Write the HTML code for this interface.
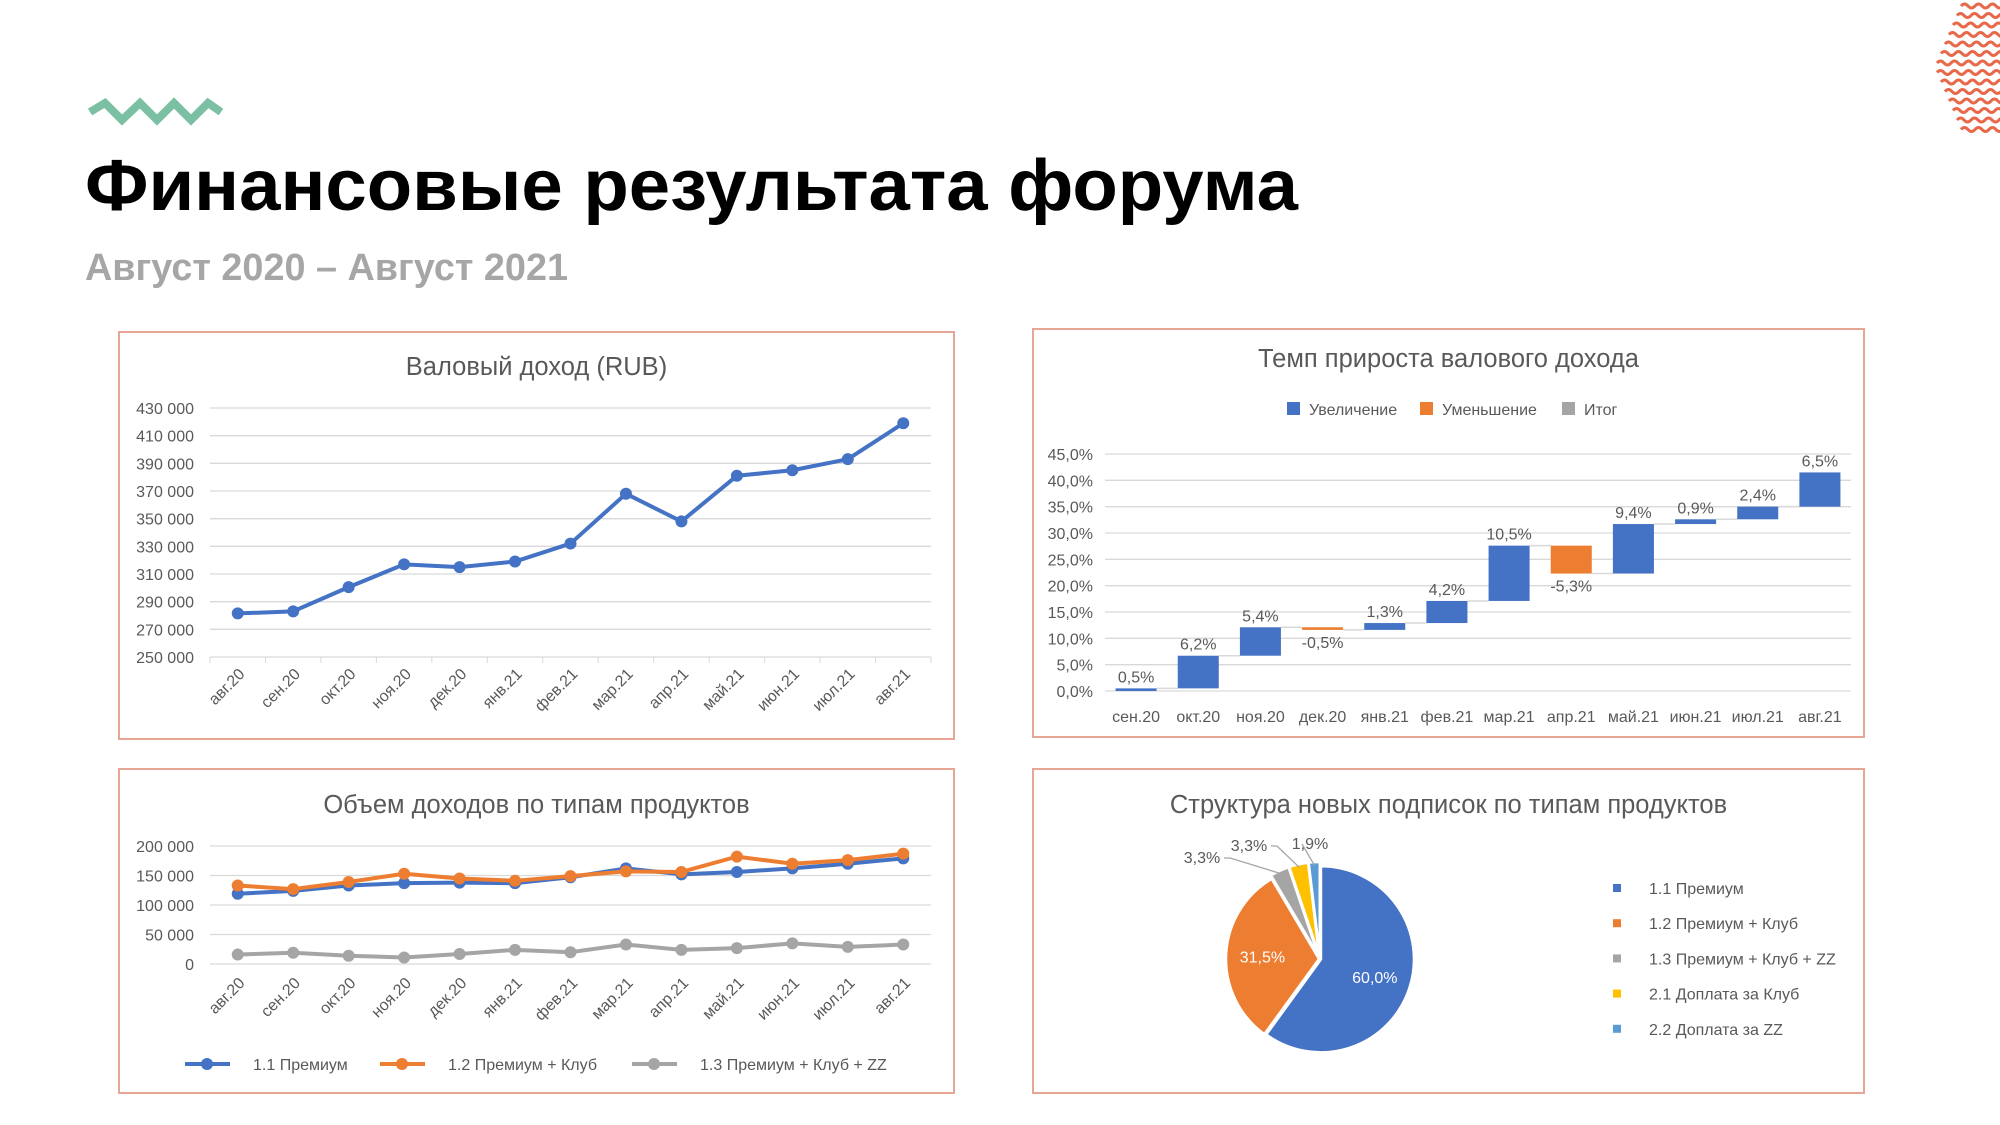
<!DOCTYPE html>
<html><head><meta charset="utf-8"><style>
html,body{margin:0;padding:0;background:#fff;}
svg{display:block;font-family:"Liberation Sans","DejaVu Sans",sans-serif;}
</style></head><body>
<svg id="s" width="2000" height="1125" viewBox="0 0 2000 1125" xmlns="http://www.w3.org/2000/svg">
<polyline points="90,112 105,103 122,120 140,103 157,120 174,103 191,120 208,103 221,112" fill="none" stroke="#7cc0a4" stroke-width="8" stroke-linejoin="miter"/>
<text x="85" y="210" font-size="72" font-weight="bold" fill="#000" textLength="1213" lengthAdjust="spacingAndGlyphs">Финансовые результата форума</text>
<text x="85" y="280" font-size="38" font-weight="bold" fill="#a6a6a6" textLength="483" lengthAdjust="spacingAndGlyphs">Август 2020 – Август 2021</text>
<g id="waves"></g>
<g id="c1"></g>
<g id="c2"></g>
<g id="c3"></g>
<g id="c4"></g>
</svg>
<script>
const months = ['авг.20','сен.20','окт.20','ноя.20','дек.20','янв.21','фев.21','мар.21','апр.21','май.21','июн.21','июл.21','авг.21'];
const grossIncome = [281500,283000,300500,317000,315000,319000,332000,368000,348000,381000,385000,393000,419000];
const grossTicks = [250000,270000,290000,310000,330000,350000,370000,390000,410000,430000];
const growthCats = ['сен.20','окт.20','ноя.20','дек.20','янв.21','фев.21','мар.21','апр.21','май.21','июн.21','июл.21','авг.21'];
const growthVals = [0.5,6.2,5.4,-0.5,1.3,4.2,10.5,-5.3,9.4,0.9,2.4,6.5];
const growthTicks = [0,5,10,15,20,25,30,35,40,45];
const premium = [119000,124000,133000,137000,138000,137000,147000,162000,152000,156000,162000,170000,179000];
const premiumClub = [133000,127000,139000,153000,145000,141000,149000,157000,156000,182000,170000,176000,187000];
const premiumClubZZ = [16000,19000,14000,11000,17000,24000,20000,33000,24000,27000,35000,29000,33000];
const productTicks = [0,50000,100000,150000,200000];
const pieLabels = ['1.1 Премиум','1.2 Премиум + Клуб','1.3 Премиум + Клуб + ZZ','2.1 Доплата за Клуб','2.2 Доплата за ZZ'];
const pieVals = [60.0,31.5,3.3,3.3,1.9];

const NS='http://www.w3.org/2000/svg';
function mk(parent,tag,attrs,txt){const e=document.createElementNS(NS,tag);for(const k in attrs)e.setAttribute(k,attrs[k]);if(txt!==undefined)e.textContent=txt;parent.appendChild(e);return e;}
function fmt(v){const s=String(Math.round(v));return s.replace(/\B(?=(\d{3})+(?!\d))/g,' ');}
function pct(v){return v.toFixed(1).replace('.',',')+'%';}
const BLUE='#4472c4',ORANGE='#ed7d31',GRAY='#a5a5a5',YEL='#ffc000',LBLUE='#5b9bd5',TXT='#595959',GRID='#d9d9d9';

(function(){const g=document.getElementById('waves');
for(let i=0;i<14;i++){const y=6+i*9.5;const x0=1935+Math.abs(i-6.5)*4;let d='M'+x0+','+y;
for(let x=x0;x<2005;x+=14){d+=' q3.5,-4 7,0 t7,0';}
const p=mk(g,'path',{d:d,fill:'none',stroke:'#e8694a','stroke-width':'3'});

}})();

function frame(g,x,y,w,h,title,ty){
 const r=mk(g,'rect',{x:x,y:y,width:w,height:h,fill:'#fff',stroke:'#e6a595','stroke-width':'2'});
 
 
 const t=mk(g,'text',{x:x+w/2,y:ty,'text-anchor':'middle','font-size':'25.5',fill:TXT},title);
 
 
}

(function(){const g=document.getElementById('c1');
frame(g,119,332,835,407,'Валовый доход (RUB)',375);
const L=210,R=931,T=408,B=657,min=250000,max=430000;
const yS=v=>B-(v-min)/(max-min)*(B-T);const bw=(R-L)/months.length;const xS=i=>L+bw*(i+0.5);
grossTicks.forEach(v=>{const l=mk(g,'line',{x1:L,x2:R,y1:yS(v),y2:yS(v),stroke:GRID,'stroke-width':'1.3'});

const t=mk(g,'text',{x:194,y:yS(v)+6,'text-anchor':'end','font-size':'16',fill:TXT},fmt(v));
});
for(let i=0;i<=months.length;i++){mk(g,'line',{x1:L+bw*i,x2:L+bw*i,y1:B,y2:B+6,stroke:GRID});}
months.forEach((m,i)=>{const t=mk(g,'text',{transform:`translate(${xS(i)+8},${B+18}) rotate(-45)`,'text-anchor':'end','font-size':'16',fill:TXT},m);
});
const pl=mk(g,'polyline',{points:grossIncome.map((v,i)=>xS(i)+','+yS(v)).join(' '),fill:'none',stroke:BLUE,'stroke-width':'4','stroke-linejoin':'round'});

grossIncome.forEach((v,i)=>{const c=mk(g,'circle',{cx:xS(i),cy:yS(v),r:6,fill:BLUE});
});
})();

(function(){const g=document.getElementById('c2');
frame(g,1033,329,831,408,'Темп прироста валового дохода',367);
const leg=[['Увеличение',BLUE,1287],['Уменьшение',ORANGE,1420],['Итог',GRAY,1562]];
leg.forEach(l=>{const r=mk(g,'rect',{x:l[2],y:402,width:13,height:13,fill:l[1]});

const t=mk(g,'text',{x:l[2]+22,y:415,'font-size':'16',fill:TXT},l[0]);
});
const L=1105,R=1851,T=454,B=691,max=45;
const yS=v=>B-v/max*(B-T);const bw=(R-L)/growthCats.length;const xS=i=>L+bw*(i+0.5);
growthTicks.forEach(v=>{const l=mk(g,'line',{x1:L,x2:R,y1:yS(v),y2:yS(v),stroke:GRID,'stroke-width':'1.3'});

const t=mk(g,'text',{x:1093,y:yS(v)+6,'text-anchor':'end','font-size':'16',fill:TXT},pct(v));
});
let cum=0;const w=bw*0.66;
growthVals.forEach((v,i)=>{const a=cum,b=cum+v;cum=b;const top=Math.max(a,b),bot=Math.min(a,b);
const r=mk(g,'rect',{x:xS(i)-w/2,y:yS(top),width:w,height:Math.max(1.5,yS(bot)-yS(top)),fill:v>=0?BLUE:ORANGE});

if(i<growthVals.length-1){const c=mk(g,'line',{x1:xS(i)+w/2,x2:xS(i+1)-w/2,y1:yS(b),y2:yS(b),stroke:GRID,'stroke-width':'1.5'});
}
const ly=v>=0?yS(top)-6:yS(bot)+18;
const t=mk(g,'text',{x:xS(i),y:ly,'text-anchor':'middle','font-size':'16',fill:TXT},pct(v));

const xl=mk(g,'text',{x:xS(i),y:722,'text-anchor':'middle','font-size':'16',fill:TXT},growthCats[i]);
});
})();

(function(){const g=document.getElementById('c3');
frame(g,119,769,835,324,'Объем доходов по типам продуктов',813);
const L=210,R=931,T=846,B=964,min=0,max=200000;
const yS=v=>B-(v-min)/(max-min)*(B-T);const bw=(R-L)/months.length;const xS=i=>L+bw*(i+0.5);
productTicks.forEach(v=>{const l=mk(g,'line',{x1:L,x2:R,y1:yS(v),y2:yS(v),stroke:GRID,'stroke-width':'1.3'});

const t=mk(g,'text',{x:194,y:yS(v)+6,'text-anchor':'end','font-size':'16',fill:TXT},fmt(v));
});
months.forEach((m,i)=>{const t=mk(g,'text',{transform:`translate(${xS(i)+8},${B+20}) rotate(-45)`,'text-anchor':'end','font-size':'16',fill:TXT},m);
});
const series=[[premium,BLUE,'premium-line'],[premiumClub,ORANGE,'premium-club-line'],[premiumClubZZ,GRAY,'premium-club-zz-line']];
series.forEach(s=>{const pl=mk(g,'polyline',{points:s[0].map((v,i)=>xS(i)+','+yS(v)).join(' '),fill:'none',stroke:s[1],'stroke-width':'4','stroke-linejoin':'round'});

s[0].forEach((v,i)=>{const c=mk(g,'circle',{cx:xS(i),cy:yS(v),r:6,fill:s[1]});
});});
const legs=[[185,pieLabels[0],BLUE],[380,pieLabels[1],ORANGE],[632,pieLabels[2],GRAY]];
legs.forEach(l=>{const ln=mk(g,'line',{x1:l[0],x2:l[0]+45,y1:1064,y2:1064,stroke:l[2],'stroke-width':'4'});

mk(g,'circle',{cx:l[0]+22,cy:1064,r:6,fill:l[2]});
const t=mk(g,'text',{x:l[0]+68,y:1070,'font-size':'16',fill:TXT},l[1]);
});
})();

(function(){const g=document.getElementById('c4');
frame(g,1033,769,831,324,'Структура новых подписок по типам продуктов',813);
const cx=1320,cy=959,r=93;const cols=[BLUE,ORANGE,GRAY,YEL,LBLUE];
const tot=pieVals.reduce((a,b)=>a+b,0);let ang=0;
pieVals.forEach((v,i)=>{const a0=ang,a1=ang+v/tot*2*Math.PI;ang=a1;const mid=(a0+a1)/2;
const off=i>=2?4:1;const ox=cx+off*Math.sin(mid),oy=cy-off*Math.cos(mid);
const p0=[ox+r*Math.sin(a0),oy-r*Math.cos(a0)],p1=[ox+r*Math.sin(a1),oy-r*Math.cos(a1)];
const large=(a1-a0)>Math.PI?1:0;
const p=mk(g,'path',{d:`M${ox},${oy} L${p0[0]},${p0[1]} A${r},${r} 0 ${large} 1 ${p1[0]},${p1[1]} Z`,fill:cols[i],stroke:'#fff','stroke-width':'2.5'});

let lx,ly,fill;
if(i<2){lx=cx+r*0.62*Math.sin(mid);ly=cy-r*0.62*Math.cos(mid)+6;fill='#fff';}
else{const pos=[[1202,863],[1249,851],[1310,849]][i-2];lx=pos[0];ly=pos[1];fill=TXT;
const ex=ox+(r-3)*Math.sin(mid),ey=oy-(r-3)*Math.cos(mid);
const ld=mk(g,'polyline',{points:`${lx+(i===4?-8:22)},${ly-5} ${lx+(i===4?-8:28)},${ly-5} ${ex},${ey}`,fill:'none',stroke:'#a6a6a6','stroke-width':'1.3'});
}
const t=mk(g,'text',{x:lx,y:ly,'text-anchor':'middle','font-size':'16',fill:fill},pct(v));

const ly2=888+i*35.2;
const sq=mk(g,'rect',{x:1613,y:ly2-4,width:8,height:8,fill:cols[i]});

const lt=mk(g,'text',{x:1649,y:ly2+6,'font-size':'16',fill:TXT},pieLabels[i]);
});
})();
</script>
</body></html>
